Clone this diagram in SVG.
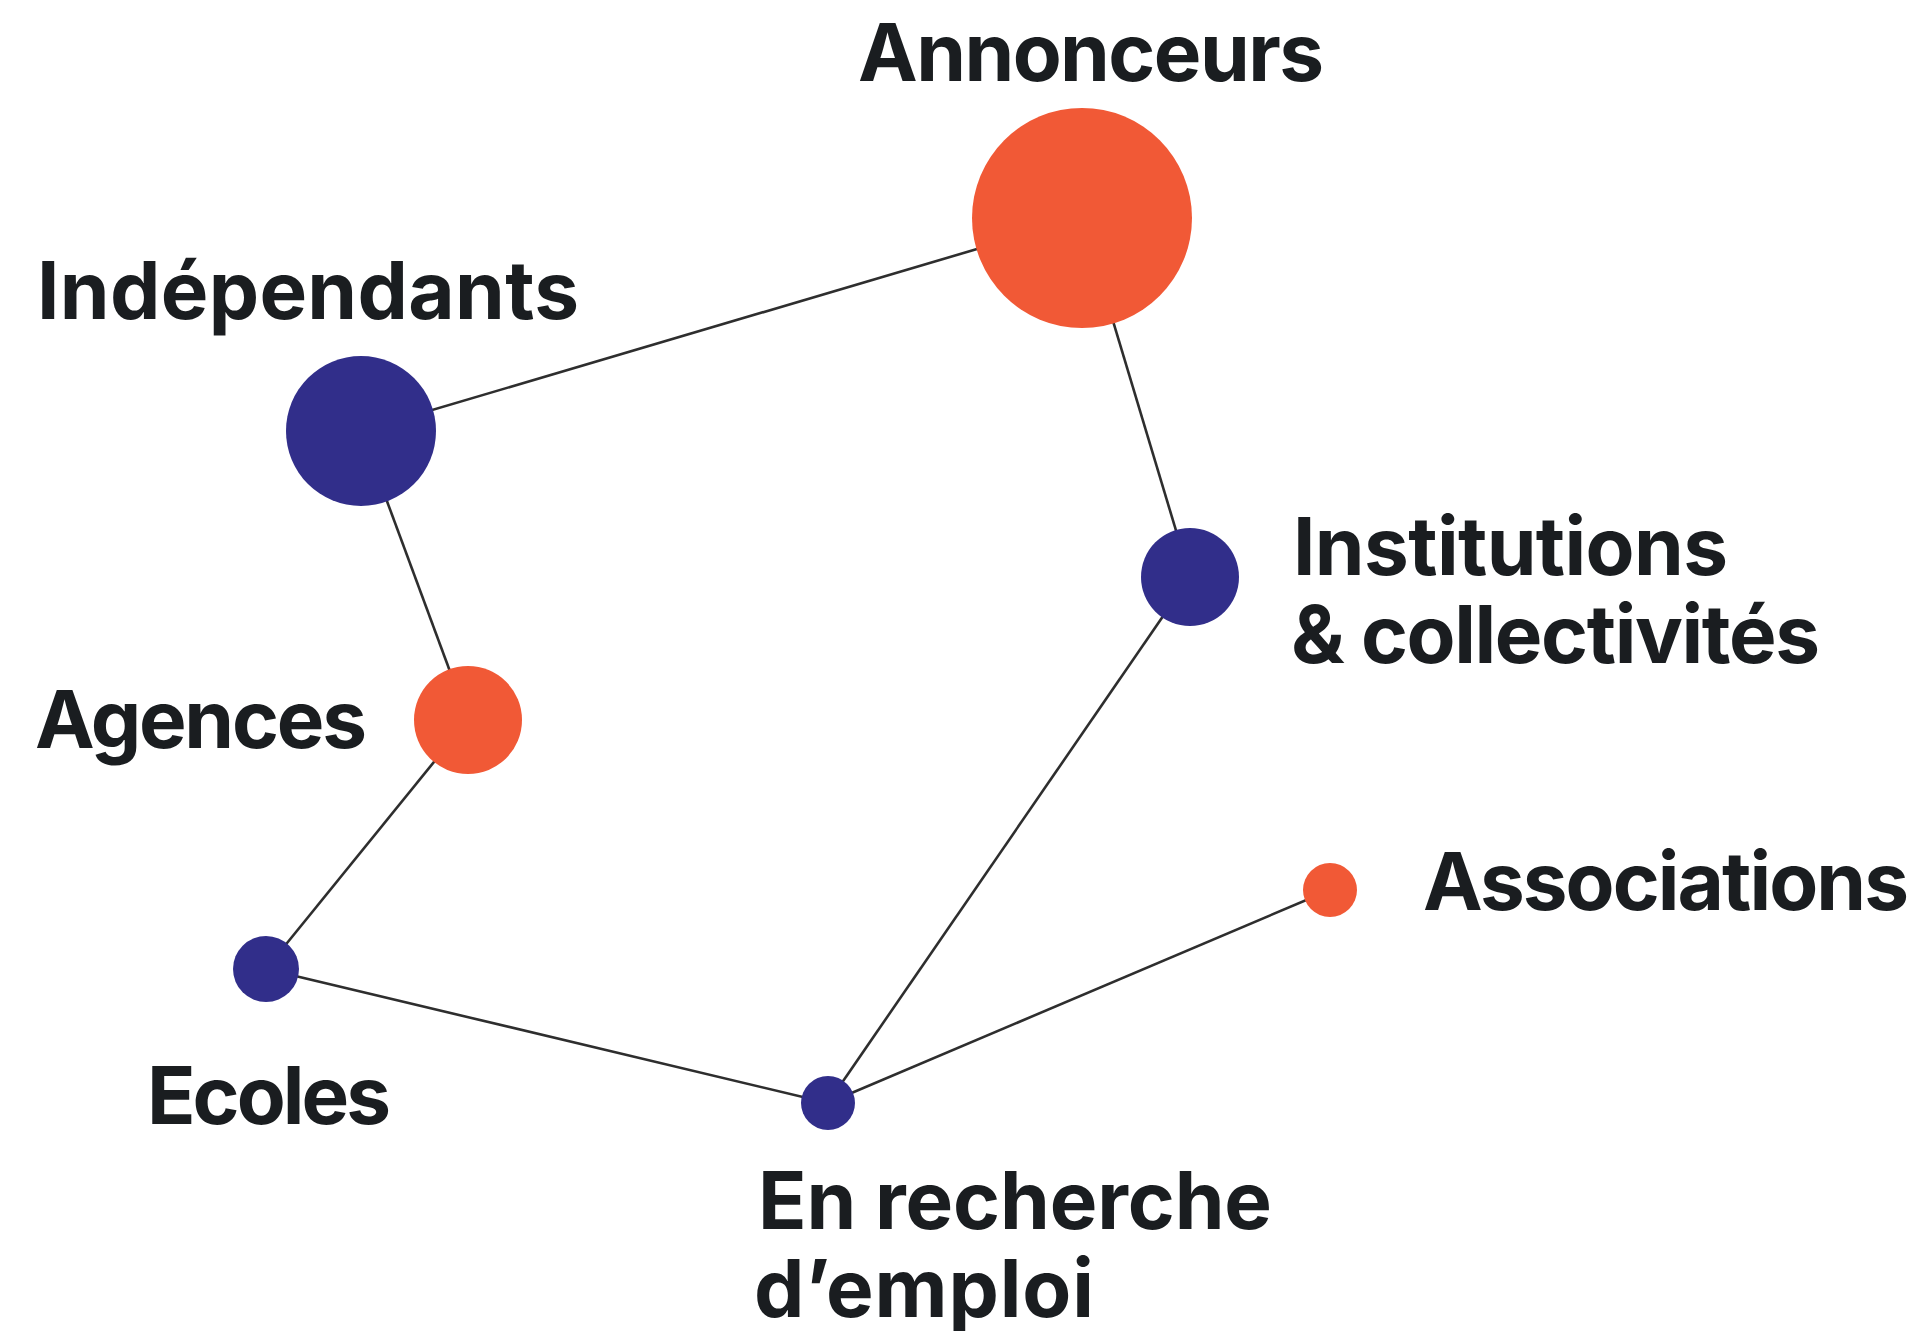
<svg xmlns="http://www.w3.org/2000/svg" width="1922" height="1331" viewBox="0 0 1922 1331">
<style>
.lbl{font-family:Inter,"Open Sans","Liberation Sans",sans-serif;font-weight:700;font-size:80px;fill:#1a1d20}
.edge{stroke:#2e2e2e;stroke-width:2.6;fill:none}
.o{fill:#f15936}
.b{fill:#312e8a}
</style>
<rect width="1922" height="1331" fill="#fff"/>
<g id="connectors">
<line class="edge" x1="361" y1="431" x2="1082" y2="218"/>
<line class="edge" x1="1082" y1="218" x2="1190" y2="577"/>
<line class="edge" x1="361" y1="431" x2="468" y2="720"/>
<line class="edge" x1="468" y1="720" x2="266" y2="969"/>
<line class="edge" x1="266" y1="969" x2="828" y2="1103"/>
<line class="edge" x1="828" y1="1103" x2="1190" y2="577"/>
<line class="edge" x1="828" y1="1103" x2="1330" y2="890"/>
</g>
<g id="annonceurs"><circle class="o" cx="1082" cy="218" r="110"/><text class="lbl" x="858" y="81" textLength="466">Annonceurs</text></g>
<g id="independants"><circle class="b" cx="361" cy="431" r="75"/><text class="lbl" x="37" y="319" textLength="542">Indépendants</text></g>
<g id="agences"><circle class="o" cx="468" cy="720" r="54"/><text class="lbl" x="35" y="748" textLength="332">Agences</text></g>
<g id="institutions"><circle class="b" cx="1190" cy="577" r="49"/><text class="lbl" x="1293" y="575" textLength="435">Institutions</text><text class="lbl" x="1291" y="663" textLength="529">&amp; collectivités</text></g>
<g id="associations"><circle class="o" cx="1330" cy="890" r="27"/><text class="lbl" x="1423" y="910" textLength="486">Associations</text></g>
<g id="ecoles"><circle class="b" cx="266" cy="969" r="33"/><text class="lbl" x="147" y="1124" textLength="244">Ecoles</text></g>
<g id="en-recherche"><circle class="b" cx="828" cy="1103" r="27"/><text class="lbl" x="758" y="1229" textLength="514">En recherche</text><text class="lbl" x="754" y="1317" textLength="340">d’emploi</text></g>
</svg>
